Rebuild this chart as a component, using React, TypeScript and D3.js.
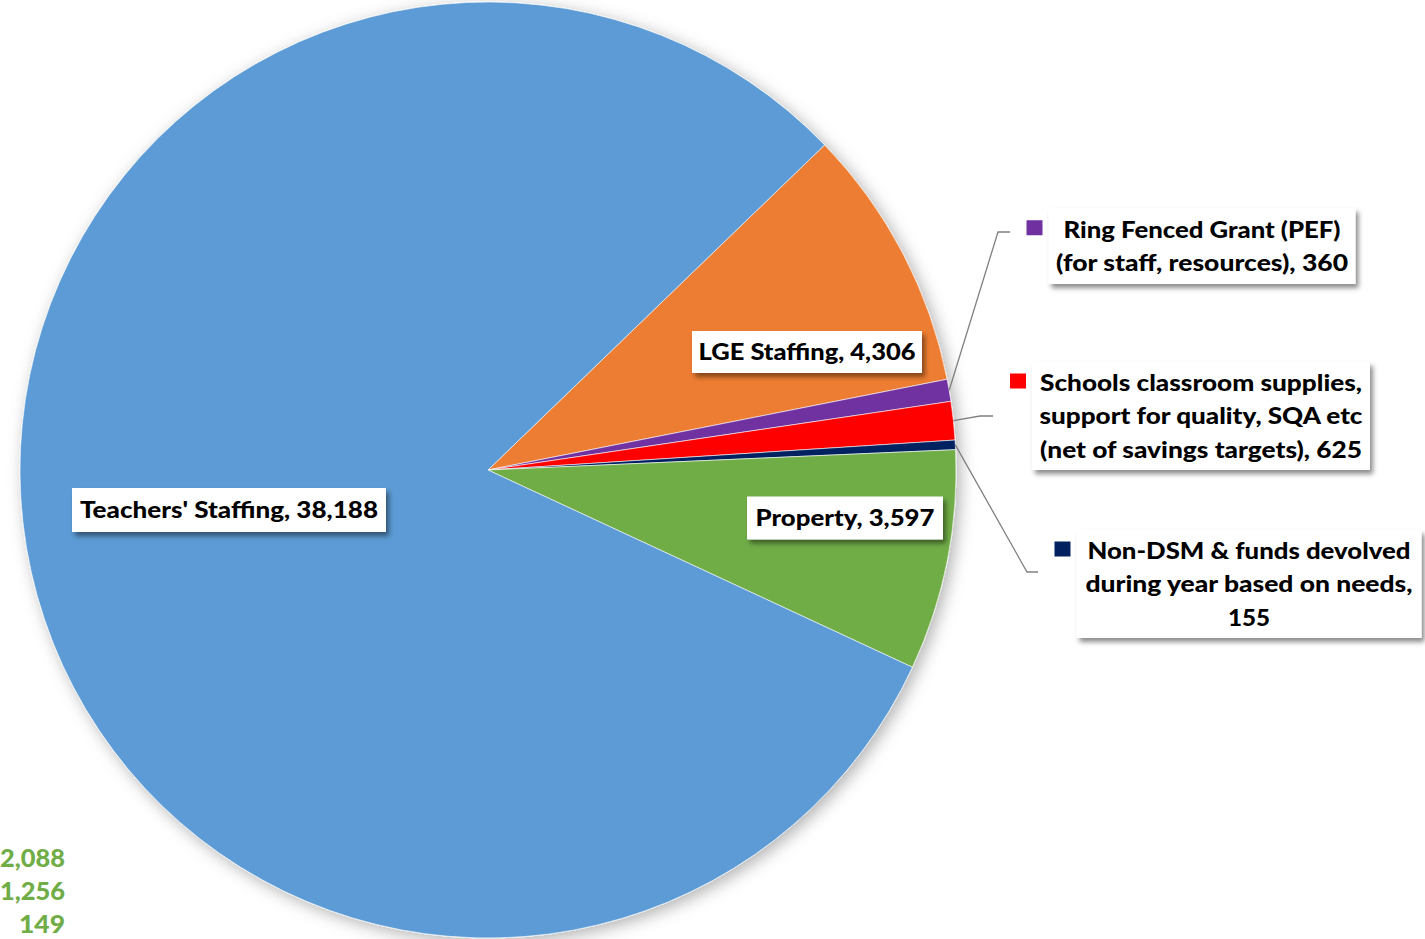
import * as d3 from 'd3';
import { useEffect, useRef } from 'react';

// Slice data, in the chart's drawing order (clockwise from the first slice angle)
const categories = [
    'LGE Staffing',
    'Ring Fenced Grant (PEF) (for staff, resources)',
    'Schools classroom supplies, support for quality, SQA etc (net of savings targets)',
    'Non-DSM & funds devolved during year based on needs',
    'Property',
    "Teachers' Staffing",
];
const values = [4306, 360, 625, 155, 3597, 38188];
const colors = ['#ED7D31', '#7030A0', '#FF0000', '#002060', '#70AD47', '#5B9BD5'];

// Label text, split into lines as shown in the chart
const labelLines = [
    ['LGE Staffing, 4,306'],
    ['Ring Fenced Grant (PEF)', '(for staff, resources), 360'],
    ['Schools classroom supplies,', 'support for quality, SQA etc', '(net of savings targets), 625'],
    ['Non-DSM & funds devolved', 'during year based on needs,', '155'],
    ['Property, 3,597'],
    ["Teachers' Staffing, 38,188"],
];

// Stray values from a neighbouring chart, cut off at the bottom left
const strayValues = ['2,088', '1,256', '149'];

// Label layout: box centre, box size, rendered line widths, elbow of leader line
const labelLayout = [
    { cx: 807, cy: 352, w: 230, h: 42, lw: [217], elbow: null },
    { cx: 1202, cy: 246, w: 307, h: 76, lw: [277, 292], elbow: [998, 232, 1010] },
    { cx: 1201, cy: 416, w: 338, h: 108, lw: [322, 323, 322], elbow: [980, 416, 993] },
    { cx: 1249, cy: 584, w: 345, h: 108, lw: [323, 327, 42], elbow: [1027, 572, 1038] },
    { cx: 845, cy: 518, w: 196, h: 43, lw: [179], elbow: null },
    { cx: 229, cy: 510, w: 314, h: 44, lw: [298], elbow: null },
];
const strayWidths = [65, 65, 46];

const FONT = 'Lato, "Open Sans", sans-serif';

function App() {
    const svgRef = useRef<SVGSVGElement>(null);
    const width = 1425;
    const height = 939;

    useEffect(() => {
        if (!svgRef.current) return;
        const svg = d3.select(svgRef.current);
        svg.selectAll('*').remove();

        const cx = 488;
        const cy = 470;
        const radius = 468;

        const defs = svg.append('defs');
        const pieShadow = defs.append('filter').attr('id', 'pieShadow')
            .attr('x', '-10%').attr('y', '-10%').attr('width', '120%').attr('height', '120%');
        pieShadow.append('feDropShadow')
            .attr('dx', 4).attr('dy', 4).attr('stdDeviation', 8)
            .attr('flood-color', '#000').attr('flood-opacity', 0.3);

        const boxShadow = defs.append('filter').attr('id', 'boxShadow')
            .attr('x', '-10%').attr('y', '-20%').attr('width', '125%').attr('height', '150%');
        boxShadow.append('feDropShadow')
            .attr('dx', 3).attr('dy', 4).attr('stdDeviation', 2.5)
            .attr('flood-color', '#000').attr('flood-opacity', 0.45);

        const pie = d3.pie<number>()
            .sort(null)
            .value((d) => d)
            .startAngle((46 * Math.PI) / 180)
            .endAngle((46 * Math.PI) / 180 + 2 * Math.PI);
        const arcs = pie(values);

        const arc = d3.arc<d3.PieArcDatum<number>>().innerRadius(0).outerRadius(radius);
        const edgeArc = d3.arc<d3.PieArcDatum<number>>().innerRadius(radius).outerRadius(radius);

        const g = svg.append('g').attr('transform', `translate(${cx},${cy})`);

        g.append('g')
            .attr('filter', 'url(#pieShadow)')
            .selectAll('path')
            .data(arcs)
            .join('path')
            .attr('d', arc)
            .attr('fill', (_, i) => colors[i])
            .attr('stroke', '#fff')
            .attr('stroke-width', 0.6)
            .append('title')
            .text((d, i) => `${categories[i]}: ${d3.format(',')(d.value)}`);

        // Leader lines for the small slices
        arcs.forEach((a, i) => {
            const lay = labelLayout[i];
            if (!lay.elbow) return;
            const [ex, ey] = edgeArc.centroid(a);
            const [bx, by, hx] = lay.elbow;
            svg.append('polyline')
                .attr('points', `${cx + ex},${cy + ey} ${bx},${by} ${hx},${by}`)
                .attr('fill', 'none')
                .attr('stroke', '#808080')
                .attr('stroke-width', 1.3);
        });

        // Data labels
        const lineH = 33.5;
        labelLines.forEach((lines, i) => {
            const lay = labelLayout[i];
            const lg = svg.append('g');
            lg.append('rect')
                .attr('x', lay.cx - lay.w / 2)
                .attr('y', lay.cy - lay.h / 2)
                .attr('width', lay.w)
                .attr('height', lay.h)
                .attr('fill', '#fff')
                .attr('filter', 'url(#boxShadow)');
            const firstY = lay.cy - ((lines.length - 1) * lineH) / 2;
            lines.forEach((t, j) => {
                lg.append('text')
                    .attr('x', lay.cx)
                    .attr('y', firstY + j * lineH)
                    .attr('dy', '0.36em')
                    .attr('text-anchor', 'middle')
                    .attr('font-family', FONT)
                    .attr('font-weight', 900)
                    .attr('font-size', 23.5)
                    .attr('textLength', lay.lw[j])
                    .attr('lengthAdjust', 'spacingAndGlyphs')
                    .attr('fill', '#000')
                    .text(t);
            });
            if (lay.elbow) {
                // Legend key sits left of the first line
                const keyX = lay.cx - lay.w / 2 - 22;
                lg.append('rect')
                    .attr('x', keyX)
                    .attr('y', firstY - 9)
                    .attr('width', 16)
                    .attr('height', 15)
                    .attr('fill', colors[i]);
            }
        });

        // Cut-off values in the bottom left
        svg.append('g')
            .selectAll('text')
            .data(strayValues)
            .join('text')
            .attr('x', 65)
            .attr('y', (_, i) => 858 + i * 33)
            .attr('dy', '0.36em')
            .attr('text-anchor', 'end')
            .attr('font-family', FONT)
            .attr('font-weight', 900)
            .attr('font-size', 24)
            .attr('textLength', (_, i) => strayWidths[i])
            .attr('lengthAdjust', 'spacingAndGlyphs')
            .attr('fill', '#70AD47')
            .text((d) => d);
    }, []);

    return (
        <div style={{ position: 'absolute', left: 0, top: 0, width, height, overflow: 'hidden', background: '#fff' }}>
            <svg ref={svgRef} width={width} height={height} style={{ display: 'block' }} />
        </div>
    );
}

export default App;
